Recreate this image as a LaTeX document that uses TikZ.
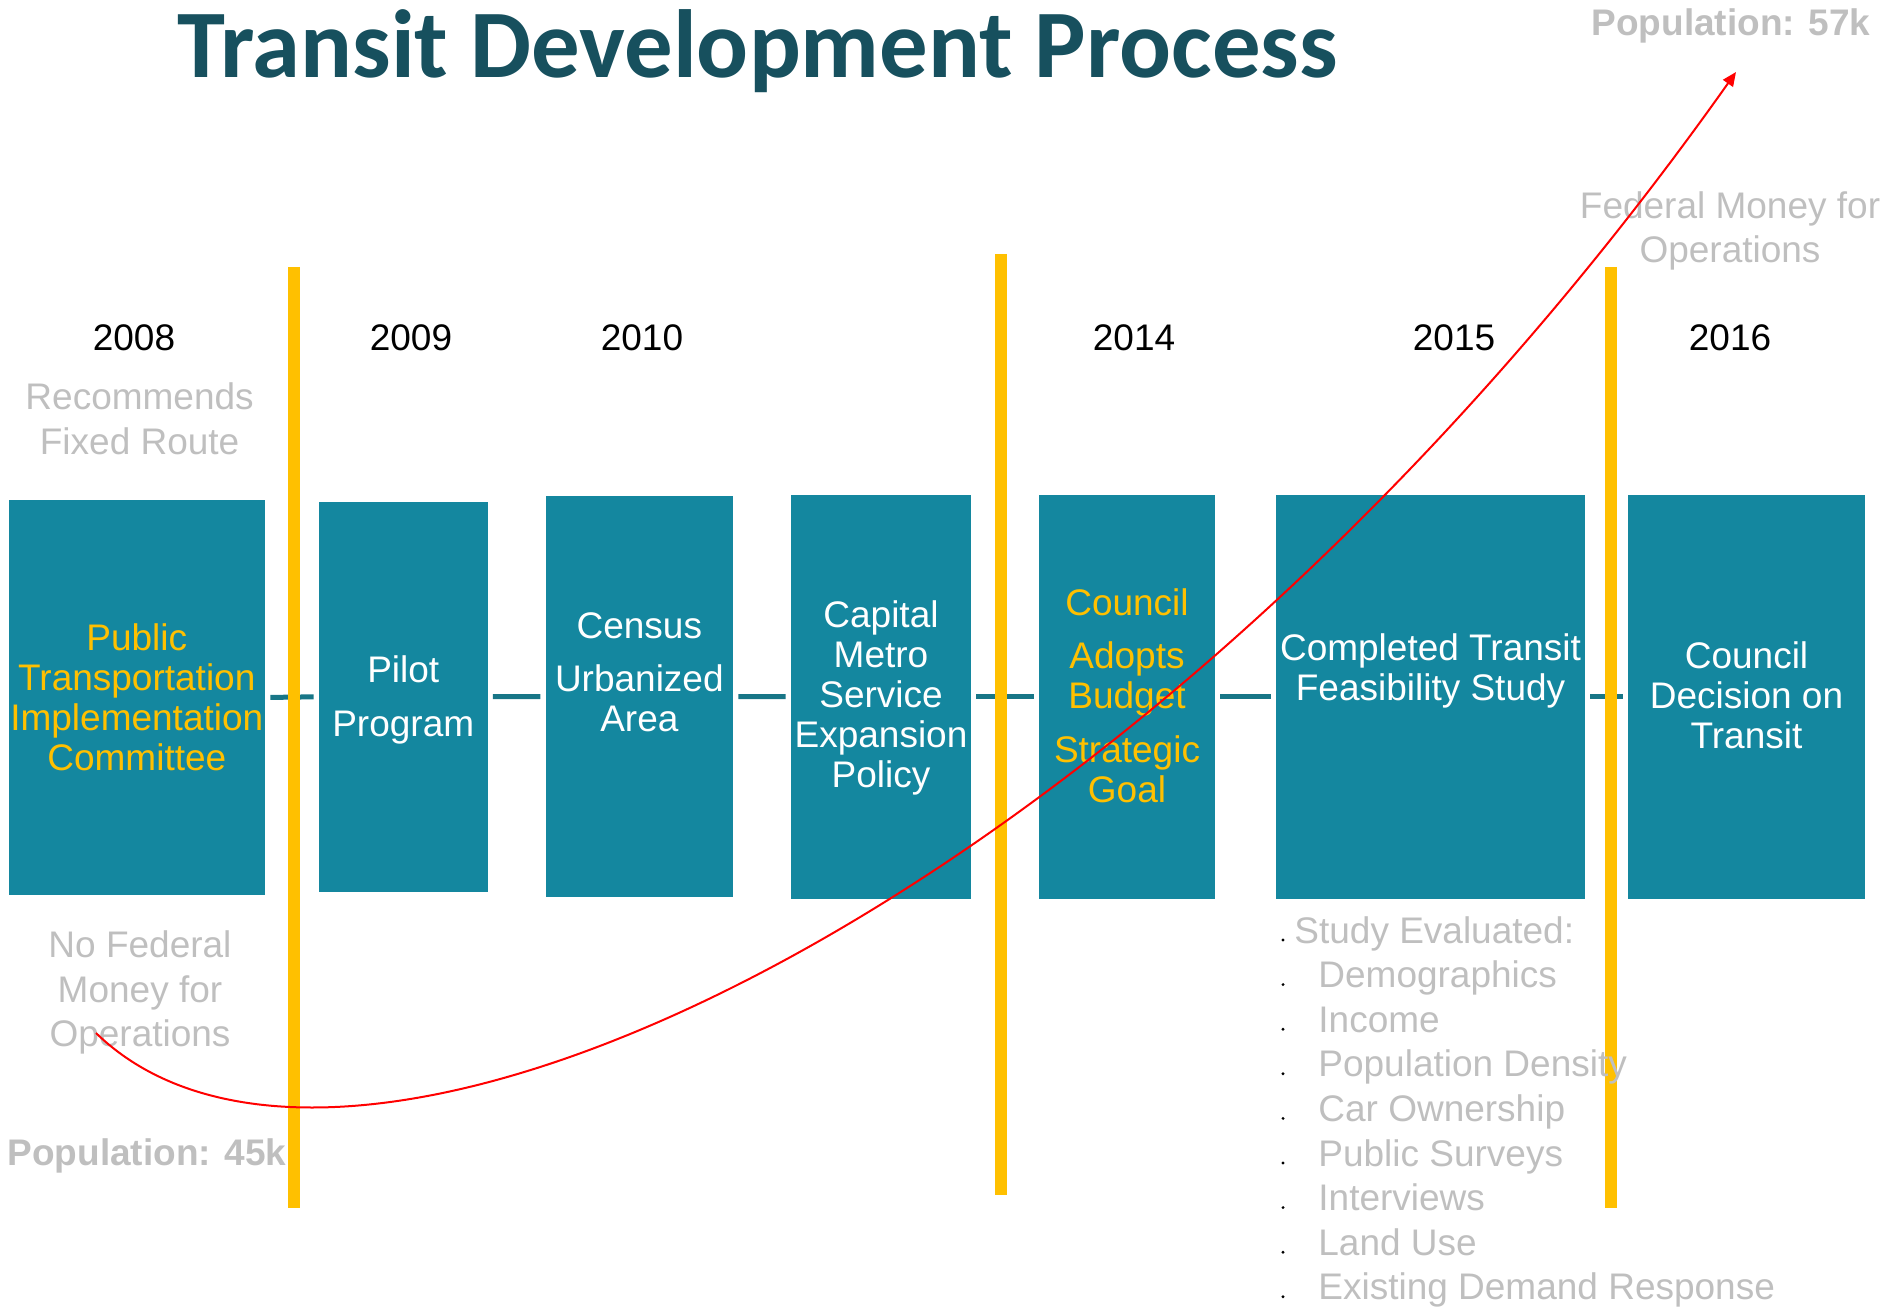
\documentclass[tikz,border=0pt]{standalone}
\usepackage{fontspec}
\setmainfont{Liberation Sans}
\newfontfamily\titlefont{Carlito}
\usetikzlibrary{arrows.meta}
\definecolor{boxteal}{RGB}{20,135,159}
\definecolor{lineteal}{RGB}{24,118,135}
\definecolor{barYellow}{RGB}{255,192,0}
\definecolor{softgray}{RGB}{191,191,191}
\definecolor{titleteal}{RGB}{23,80,94}
\begin{document}
\begin{tikzpicture}[x=0.5pt,y=-0.5pt,
  stage/.style={fill=boxteal, inner sep=0pt, draw=none, rectangle},
  boxtext/.style={font=\fontsize{18.5}{20}\selectfont, align=center, inner sep=0pt, text=white},
  hl/.style={text=barYellow},
  yearlab/.style={font=\fontsize{18.5}{20}\selectfont, inner sep=0pt, anchor=base, text=black},
  note/.style={font=\fontsize{18.5}{22.2}\selectfont, align=center, inner sep=0pt, text=softgray},
  popnote/.style={font=\bfseries\fontsize{18.5}{20}\selectfont, inner sep=0pt, anchor=base, text=softgray},
  listline/.style={font=\fontsize{18.5}{20}\selectfont, inner sep=0pt, anchor=base west, text=softgray},
  link/.style={draw=lineteal, line width=2.5pt, shorten <=2.5pt, shorten >=2.5pt},
  yearbar/.style={draw=barYellow, line width=6pt},
  trend/.style={draw=red, line width=1pt, -{Triangle[length=7pt,width=6pt]}}
]
\useasboundingbox (0,0) rectangle (1884,1310);

% title
\node[anchor=base west, inner sep=0pt, font=\titlefont\bfseries\fontsize{48.4}{58}\selectfont, text=titleteal] (title) at (177,78) {Transit Development Process};

% stage boxes
\node[stage, minimum width=128.2pt, minimum height=197.5pt] (b1) at (136.8,697.5) {};
\node[stage, minimum width=84.25pt, minimum height=194.75pt] (b2) at (403.25,696.75) {};
\node[stage, minimum width=93.65pt, minimum height=200.5pt] (b3) at (639.35,696.5) {};
\node[stage, minimum width=90pt, minimum height=202pt] (b4) at (881,696.7) {};
\node[stage, minimum width=88pt, minimum height=202pt] (b5) at (1127,696.7) {};
\node[stage, minimum width=154.5pt, minimum height=202pt] (b6) at (1430.5,696.7) {};
\node[stage, minimum width=118.5pt, minimum height=202pt] (b7) at (1746.5,696.7) {};

% connectors
\draw[link] (b1.east) -- (b2.west);
\draw[link] (b2.east) -- (b3.west);
\draw[link] (b3.east) -- (b4.west);
\draw[link] (b4.east) -- (b5.west);
\draw[link] (b5.east) -- (b6.west);
\draw[link] (b6.east) -- (b7.west);

% box texts
\node[boxtext, hl] (t1) at (136.8,697) {Public\\Transportation\\Implementation\\Committee};
\node[boxtext] (t2) at (403.25,700) {Pilot\\[7pt]Program};
\node[boxtext] (t3) at (639.35,672) {Census\\[6.5pt]Urbanized\\Area};
\node[boxtext] (t4) at (881,697.5) {Capital\\Metro\\Service\\Expansion\\Policy};
\node[boxtext, hl] (t5) at (1127,695.5) {Council\\[6.5pt]Adopts\\Budget\\[7pt]Strategic\\Goal};
\node[boxtext] (t6) at (1430.5,671) {Completed Transit\\Feasibility Study};
\node[boxtext] (t7) at (1746.5,695) {Council\\Decision on\\Transit};

% yellow separators
\draw[yearbar] (294,267) -- (294,1208);
\draw[yearbar] (1001,254) -- (1001,1195);
\draw[yearbar] (1611,267) -- (1611,1208);

% years
\node[yearlab] (y2008) at (134,351) {2008};
\node[yearlab] (y2009) at (411,351) {2009};
\node[yearlab] (y2010) at (642,351) {2010};
\node[yearlab] (y2014) at (1134,351) {2014};
\node[yearlab] (y2015) at (1454,351) {2015};
\node[yearlab] (y2016) at (1730,351) {2016};

% notes
\node[note, font=\fontsize{18.5}{22.5}\selectfont] (rec) at (139.6,418.5) {Recommends\\Fixed Route};
\node[note] (nofed) at (140,992.5) {No Federal\\Money for\\Operations};
\node[note] (fed) at (1730,231) {Federal Money for\\Operations};
\node[popnote] (pop45) at (147,1165) {Population: 45k};
\node[popnote] (pop57) at (1731,36) {Population: 57k};

% study list
\node[listline] (l0) at (1294,943) {Study Evaluated:};
\node[listline] (l1) at (1318,987.6) {Demographics};
\node[listline] (l2) at (1318,1032.2) {Income};
\node[listline] (l3) at (1318,1076.8) {Population Density};
\node[listline] (l4) at (1318,1121.4) {Car Ownership};
\node[listline] (l5) at (1318,1166) {Public Surveys};
\node[listline] (l6) at (1318,1210.6) {Interviews};
\node[listline] (l7) at (1318,1255.2) {Land Use};
\node[listline] (l8) at (1318,1299.8) {Existing Demand Response};
\foreach \yy in {940,984.6,1029.2,1073.8,1118.4,1163,1207.6,1252.2,1296.8}
  \fill[black] (1283,\yy) circle[radius=0.8pt];

% population trend
\coordinate (cstart) at (96,1033);
\coordinate (cend) at (1736,72);
\draw[trend] (cstart) .. controls (350,1280) and (1150,900) .. (cend);
\end{tikzpicture}
\end{document}
